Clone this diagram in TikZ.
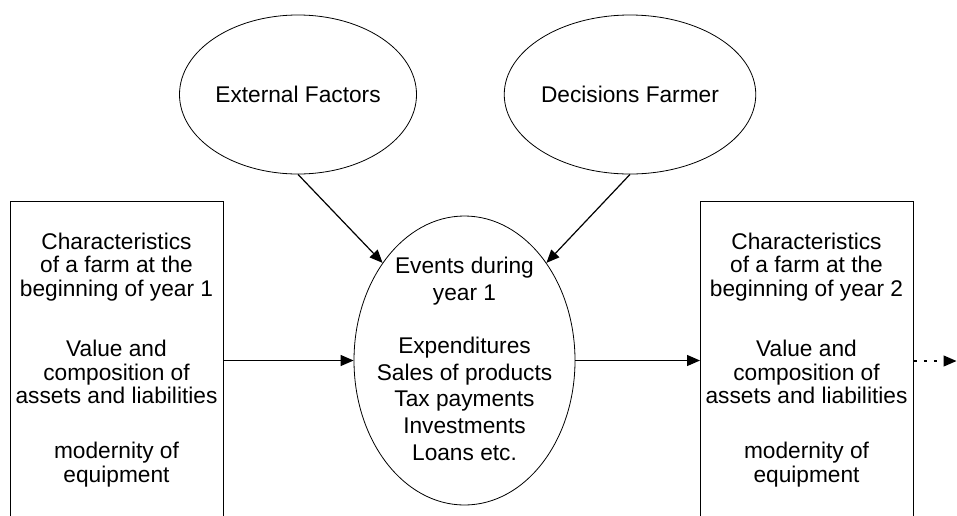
\documentclass[tikz,border=0pt]{standalone}
\usepackage{fontspec}
\setmainfont{Liberation Sans}
\usetikzlibrary{shapes.geometric,arrows.meta}

\begin{document}
\begin{tikzpicture}[x=1pt,y=-1pt,
  ell/.style={ellipse, draw, line width=0.8pt, inner sep=0pt,
    font=\fontsize{22.7}{26.7}\selectfont},
  framebox/.style={rectangle, draw, line width=0.8pt, anchor=north west,
    minimum width=213pt, minimum height=330pt, inner sep=0pt},
  boxtext/.style={anchor=north, align=center, inner sep=0pt,
    font=\fontsize{22.7}{23.6}\selectfont},
  eventtext/.style={anchor=north, align=center, inner sep=0pt,
    font=\fontsize{22.7}{26.7}\selectfont},
  flow/.style={-{Triangle[length=13pt,width=11pt]}, line width=1.2pt},
  nextyear/.style={flow, dash pattern=on 3.5pt off 6.5pt}
]
  % page frame
  \useasboundingbox (0,0) rectangle (957,515);
  \fill[white] (0,0) rectangle (957,515);
  \clip (0,0) rectangle (957,515);

  % influences on the year
  \node[ell, minimum width=237pt, minimum height=159pt] (ext) at (298,94.5) {External Factors};
  \node[ell, minimum width=237pt, minimum height=159pt] (dec) at (630,94.5) {Decisions Farmer};

  % events of the year
  \node[ell, minimum width=221pt, minimum height=289pt] (events) at (464.5,360.5) {};
  \node[eventtext] (eventslist) at (464.5,256.7)
    {Events during\\year 1\\[26.7pt]Expenditures\\Sales of products\\Tax payments\\Investments\\Loans etc.};

  % farm state at the start of each year
  \node[framebox] (box1) at (10,201) {};
  \node[boxtext] (box1text) at (116.5,232.7)
    {Characteristics\\of a farm at the\\beginning of year 1\\[36.6pt]Value and\\composition of\\assets and liabilities\\[31.4pt]modernity of\\equipment};

  \node[framebox] (box2) at (700,201) {};
  \node[boxtext] (box2text) at (806.5,232.7)
    {Characteristics\\of a farm at the\\beginning of year 2\\[36.6pt]Value and\\composition of\\assets and liabilities\\[31.4pt]modernity of\\equipment};

  \coordinate (next) at (956.5,361);

  % connectors
  \draw[flow] (ext.south) -- (events.130.5);
  \draw[flow] (dec.south) -- (events.50.6);
  \draw[flow] (events.west -| box1.east) -- (events.west);
  \draw[flow] (events.east) -- (events.east -| box2.west);
  \draw[nextyear] (next -| box2.east) -- (next);
\end{tikzpicture}
\end{document}
